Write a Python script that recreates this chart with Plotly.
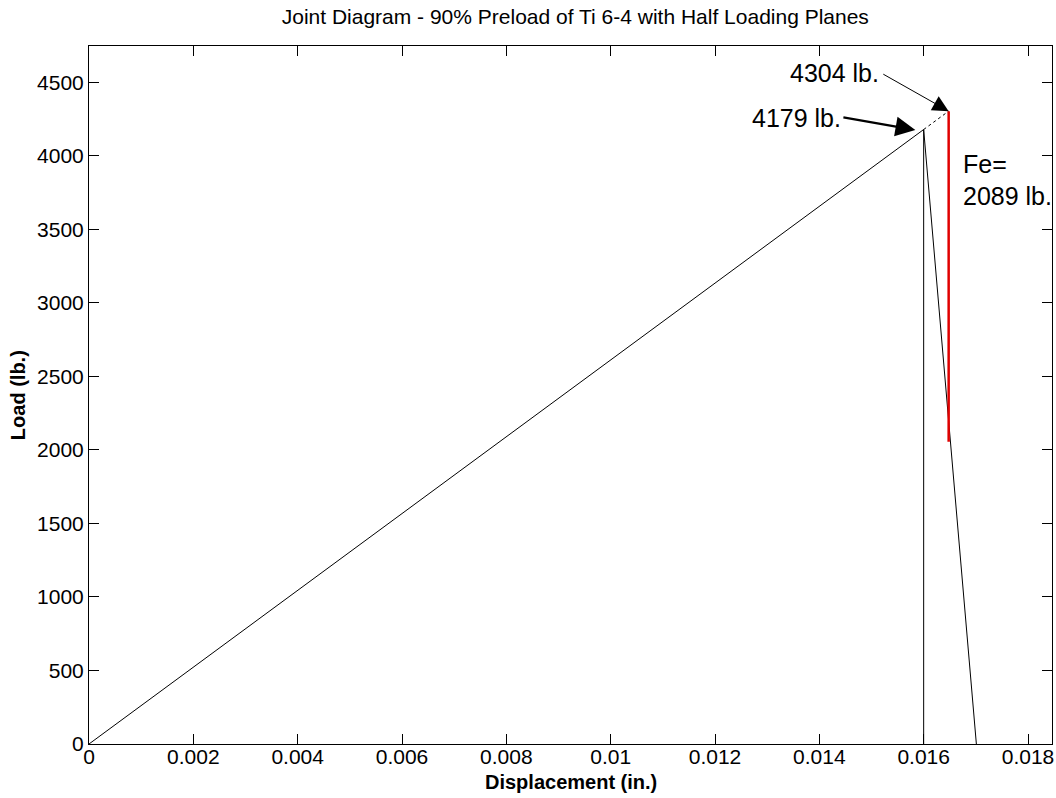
import plotly.graph_objects as go

# ---- data ----
load_x = [0.0, 0.016]
load_y = [0.0, 4179.0]
vert_x = [0.016, 0.016]
vert_y = [4179.0, 0.0]
unload_x = [0.016, 0.01701]
unload_y = [4179.0, 0.0]
ext_x = [0.016, 0.016479]
ext_y = [4179.0, 4304.0]
fe_x = [0.016479, 0.016479]
fe_y = [4304.0, 2056.0]

x_ticks = [0, 0.002, 0.004, 0.006, 0.008, 0.010, 0.012, 0.014, 0.016, 0.018]
x_ticktext = ["0", "0.002", "0.004", "0.006", "0.008", "0.01", "0.012", "0.014", "0.016", "0.018"]
y_ticks = [0, 500, 1000, 1500, 2000, 2500, 3000, 3500, 4000, 4500]
y_ticktext = [str(v) for v in y_ticks]

x_range = [0, 0.01846]
y_range = [0, 4747]

FONT = "Liberation Sans, Arial, sans-serif"

fig = go.Figure()
fig.add_trace(go.Scatter(x=load_x, y=load_y, mode="lines", line=dict(color="black", width=1), showlegend=False))
fig.add_trace(go.Scatter(x=vert_x, y=vert_y, mode="lines", line=dict(color="black", width=1), showlegend=False))
fig.add_trace(go.Scatter(x=unload_x, y=unload_y, mode="lines", line=dict(color="black", width=1), showlegend=False))
fig.add_trace(go.Scatter(x=ext_x, y=ext_y, mode="lines", line=dict(color="black", width=1, dash="dot"), showlegend=False))
fig.add_trace(go.Scatter(x=fe_x, y=fe_y, mode="lines", line=dict(color="#e00000", width=2.5), showlegend=False))

axis_common = dict(
    showgrid=False, zeroline=False, showline=True, linecolor="black", linewidth=1,
    mirror="ticks", ticks="inside", ticklen=10, tickcolor="black", tickwidth=1,
    tickfont=dict(family=FONT, size=21, color="black"), ticklabeloverflow="allow",
)
fig.update_xaxes(range=x_range, tickvals=x_ticks, ticktext=x_ticktext, ticklabelstandoff=-6, **axis_common)
fig.update_yaxes(range=y_range, tickvals=y_ticks, ticktext=y_ticktext, **axis_common)

annotations = [
    # axis titles
    dict(text="<b>Displacement (in.)</b>", xref="paper", yref="paper", x=0.5, y=-(782 - 744) / 698,
         xanchor="center", yanchor="middle", showarrow=False, font=dict(family=FONT, size=20, color="black")),
    dict(text="<b>Load (lb.)</b>", xref="paper", yref="paper", x=(18 - 89) / 965, y=0.5, textangle=-90,
         xanchor="center", yanchor="middle", showarrow=False, font=dict(family=FONT, size=20, color="black")),
    # labels
    dict(text="4304 lb.", x=0.014289, y=4563, xref="x", yref="y", showarrow=False,
         xanchor="center", yanchor="middle", font=dict(family=FONT, size=25, color="black")),
    dict(text="4179 lb.", x=0.013553, y=4257, xref="x", yref="y", showarrow=False,
         xanchor="center", yanchor="middle", font=dict(family=FONT, size=25, color="black")),
    dict(text="Fe=", x=0.016718, y=3944, xref="x", yref="y", showarrow=False,
         xanchor="left", yanchor="middle", font=dict(family=FONT, size=25, color="black")),
    dict(text="2089 lb.", x=0.016718, y=3727, xref="x", yref="y", showarrow=False,
         xanchor="left", yanchor="middle", font=dict(family=FONT, size=25, color="black")),
    # arrows
    dict(text=" ", x=0.016479, y=4304, ax=0.015188, ay=4563, xref="x", yref="y", axref="x", ayref="y",
         showarrow=True, arrowhead=2, arrowsize=3.2, arrowwidth=1, arrowcolor="black",
         font=dict(size=2)),
    dict(text=" ", x=0.01584, y=4176, ax=0.014423, ay=4264, xref="x", yref="y", axref="x", ayref="y",
         showarrow=True, arrowhead=2, arrowsize=1.8, arrowwidth=2.2, arrowcolor="black",
         font=dict(size=2)),
]

fig.update_layout(
    width=1056, height=798,
    margin=dict(l=89, r=2, t=46, b=54),
    paper_bgcolor="white", plot_bgcolor="white",
    title=dict(text="Joint Diagram - 90% Preload of Ti 6-4 with Half Loading Planes",
               x=0.505, xref="paper", xanchor="center", y=1 - 17 / 798, yref="container", yanchor="middle",
               font=dict(family=FONT, size=21, color="black")),
    annotations=annotations,
    showlegend=False,
)

fig.write_html("out.html", config={"displayModeBar": False},
               post_script="document.body.style.margin='0';document.body.style.padding='0';")
